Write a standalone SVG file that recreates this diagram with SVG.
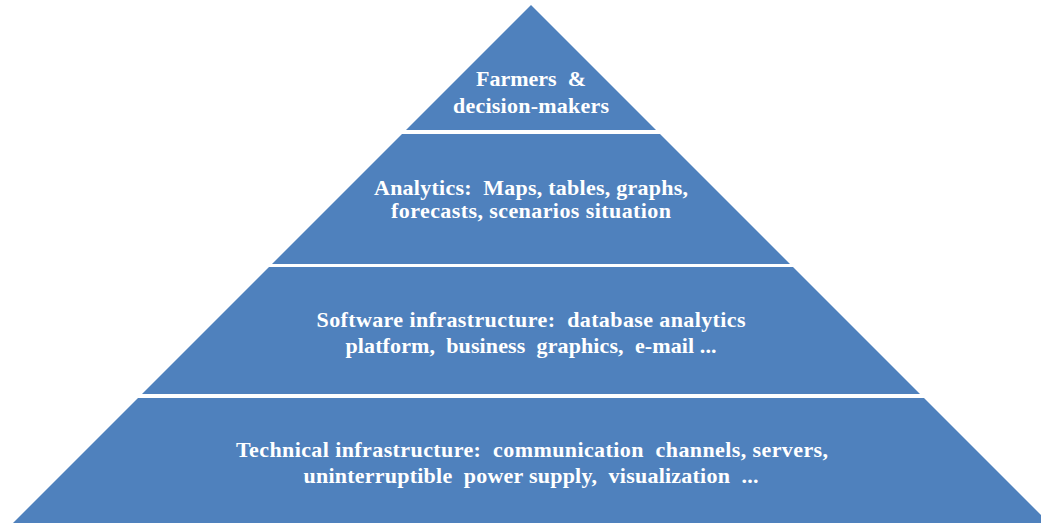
<svg xmlns="http://www.w3.org/2000/svg" width="1041" height="523" viewBox="0 0 1041 523">
<style>
.layer{fill:#4F81BD;}
.t{font-family:"Liberation Serif","Times New Roman",serif;font-weight:bold;font-size:22px;fill:#FFFFFF;text-anchor:middle;}
</style>
<rect width="1041" height="523" fill="#FFFFFF"/>
<g id="layer1">
<polygon class="layer" points="531,5 656,130 406,130"/>
<text class="t" x="531" y="86" textLength="110" lengthAdjust="spacing" xml:space="preserve">Farmers  &amp;</text>
<text class="t" x="531" y="113" textLength="156" lengthAdjust="spacing">decision-makers</text>
</g>
<g id="layer2">
<polygon class="layer" points="402,134 660,134 790,264 272,264"/>
<text class="t" x="531" y="195" textLength="314" lengthAdjust="spacing" xml:space="preserve">Analytics:  Maps, tables, graphs,</text>
<text class="t" x="531" y="218" textLength="280" lengthAdjust="spacing">forecasts, scenarios situation</text>
</g>
<g id="layer3">
<polygon class="layer" points="269,267 793,267 920,394 142,394"/>
<text class="t" x="531" y="327" textLength="429" lengthAdjust="spacing" xml:space="preserve">Software infrastructure:  database analytics</text>
<text class="t" x="531" y="353" textLength="371" lengthAdjust="spacing" xml:space="preserve">platform,  business  graphics,  e-mail ...</text>
</g>
<g id="layer4">
<polygon class="layer" points="138,398 924,398 1049,523 13,523"/>
<text class="t" x="532" y="457" textLength="592" lengthAdjust="spacing" xml:space="preserve">Technical infrastructure:  communication  channels, servers,</text>
<text class="t" x="531" y="483" textLength="455" lengthAdjust="spacing" xml:space="preserve">uninterruptible  power supply,  visualization  ...</text>
</g>
<g id="connectors"></g>
</svg>
